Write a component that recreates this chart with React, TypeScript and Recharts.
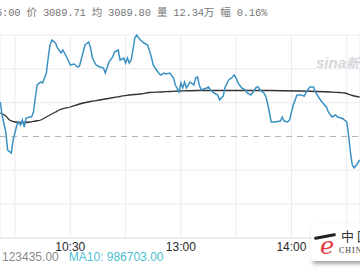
import { LineChart, Line, XAxis, YAxis, CartesianGrid, ReferenceLine } from "recharts";

// minutes counted from 9:30 (the lunch break is folded, 11:30 == 13:00 == 120)
const priceTimes = [
  22, 23, 25, 26, 28, 29, 31, 32, 33, 34, 35, 36, 38, 39, 40, 41, 42, 44, 45, 46,
  47, 48, 49, 50, 52, 53, 55, 56, 58, 60, 62, 64, 65, 67, 68, 70, 71, 72, 74, 76,
  78, 79, 81, 83, 84, 86, 87, 89, 90, 91, 92, 93, 94, 95, 96, 98, 100, 102, 104, 105,
  106, 108, 109, 111, 112, 114, 116, 117, 119, 120, 121, 122, 123, 125, 127, 128, 129, 130, 131, 134,
  135, 136, 138, 140, 141, 142, 143, 144, 146, 148, 149, 150, 151, 153, 155, 156, 158, 160, 161, 162,
  163, 165, 166, 167, 168, 169, 171, 174, 175, 176, 178, 179, 181, 183, 185, 187, 188, 190, 192, 193,
  195, 197, 199, 200, 202, 204, 205, 207, 208, 210, 211, 212, 213, 214, 216, 217,
];
const priceValues = [
  3088.23, 3086.93, 3085.23, 3083.43, 3083.13, 3084.43, 3085.93, 3086.23, 3085.93, 3086.43,
  3085.73, 3086.63, 3086.73, 3086.73, 3087.23, 3088.63, 3089.93, 3090.23, 3090.13, 3090.63,
  3091.13, 3092.63, 3093.93, 3094.43, 3094.13, 3093.63, 3093.13, 3093.43, 3092.73, 3091.93,
  3092.03, 3091.73, 3091.83, 3093.23, 3093.93, 3094.23, 3093.63, 3092.63, 3091.93, 3091.73,
  3091.63, 3091.13, 3092.23, 3092.73, 3093.23, 3093.43, 3092.43, 3092.63, 3092.13, 3092.63,
  3092.13, 3092.43, 3093.43, 3094.63, 3094.93, 3094.43, 3094.13, 3093.93, 3092.73, 3091.93,
  3091.63, 3091.13, 3090.93, 3091.13, 3091.03, 3091.13, 3090.63, 3089.93, 3089.23, 3090.13,
  3089.63, 3090.23, 3089.63, 3090.23, 3089.93, 3090.63, 3090.73, 3089.93, 3089.43, 3089.63,
  3089.73, 3089.43, 3089.13, 3088.93, 3088.43, 3088.63, 3088.83, 3089.73, 3090.43, 3090.73,
  3090.93, 3090.63, 3090.13, 3089.63, 3089.43, 3089.13, 3088.93, 3089.43, 3089.73, 3089.73,
  3089.43, 3089.13, 3088.83, 3088.13, 3087.23, 3086.23, 3086.23, 3086.33, 3086.73, 3086.33,
  3086.23, 3086.43, 3087.93, 3088.93, 3088.93, 3088.83, 3089.23, 3089.73, 3089.73, 3089.23,
  3088.63, 3088.13, 3087.73, 3087.23, 3086.73, 3086.93, 3086.73, 3086.63, 3086.53, 3086.23,
  3084.93, 3083.23, 3081.93, 3081.63, 3082.13, 3082.43,
];

const avgTimes = [
  22, 25, 27, 30, 33, 35, 38, 41, 44, 46, 49, 52, 54, 60, 65, 71, 76, 82, 87, 92,
  98, 103, 109, 114, 120, 130, 147, 168, 185, 201, 206, 209, 213, 217,
];
const avgValues = [
  3087.13, 3086.83, 3086.43, 3086.23, 3086.18, 3086.18, 3086.23, 3086.33, 3086.43, 3086.63,
  3086.93, 3087.23, 3087.43, 3087.73, 3088.03, 3088.28, 3088.43, 3088.63, 3088.78, 3088.93,
  3089.03, 3089.18, 3089.23, 3089.28, 3089.33, 3089.38, 3089.38, 3089.38, 3089.33, 3089.23,
  3089.18, 3089.13, 3088.88, 3088.73,
];

const PREV_CLOSE = 3084.78;
const gridPrices = [3074.63, 3078.01, 3081.4, 3088.16, 3091.55, 3094.93];
const timeTicks = [30, 60, 90, 120, 150, 180, 210];
const timeLabels: Record<number, string> = { 60: "10:30", 120: "13:00", 180: "14:00" };

const priceData = priceTimes.map((t, i) => ({ t, price: priceValues[i] }));
const avgData = avgTimes.map((t, i) => ({ t, avg: avgValues[i] }));

function TimeTick(props: any) {
  const { x, y, payload } = props;
  const label = timeLabels[payload.value];
  if (!label) return <g />;
  return (
    <text x={x} y={y + 5} textAnchor="middle" fontSize={12} fill="#2a2a2a" fontFamily="'Liberation Sans', Arial, sans-serif">
      {label}
    </text>
  );
}

export default function App() {
  return (
    <div
      style={{
        position: "absolute",
        left: 0,
        top: 0,
        width: 360,
        height: 270,
        overflow: "hidden",
        background: "#fff",
      }}
    >
      <div
        style={{
          position: "absolute",
          left: -4,
          top: 4,
          fontFamily: "'Liberation Mono', 'Noto Sans CJK SC', monospace",
          fontSize: 10.5,
          letterSpacing: -0.2,
          color: "#777",
          whiteSpace: "pre",
        }}
      >
        5:00 价 3089.71 均 3089.80 量 12.34万 幅 0.16%
      </div>

      <div style={{ position: "absolute", left: 0, top: 0 }}>
        <LineChart width={360} height={270} margin={{ top: 35, right: 0, bottom: 0, left: 0 }}>
          <CartesianGrid stroke="#ebebf0" />
          <XAxis
            dataKey="t"
            type="number"
            domain={[21.86, 217.2]}
            ticks={timeTicks}
            height={32}
            tickLine={false}
            axisLine={{ stroke: "#e6e6ec" }}
            tick={<TimeTick />}
            interval={0}
          />
          <YAxis
            hide
            type="number"
            domain={[3074.63, 3094.93]}
            ticks={gridPrices}
            width={0}
          />
          <ReferenceLine y={PREV_CLOSE} stroke="#b5b5b5" strokeDasharray="6 5" strokeWidth={1} />
          <Line
            data={avgData}
            dataKey="avg"
            type="monotone"
            stroke="#333"
            strokeWidth={1.3}
            dot={false}
            isAnimationActive={false}
          />
          <Line
            data={priceData}
            dataKey="price"
            type="linear"
            stroke="#3c91c3"
            strokeWidth={1.5}
            dot={false}
            isAnimationActive={false}
          />
        </LineChart>
      </div>

      <div
        style={{
          position: "absolute",
          left: 316,
          top: 53,
          fontFamily: "'Liberation Sans', Arial, sans-serif",
          fontSize: 15,
          fontWeight: 700,
          fontStyle: "italic",
          color: "#d6d6da",
          whiteSpace: "pre",
        }}
      >
        sina<span style={{ fontFamily: "'Noto Sans CJK SC'", fontSize: 13 }}>新浪</span>
      </div>

      <div
        style={{
          position: "absolute",
          left: 2,
          top: 250,
          fontFamily: "'Liberation Sans', Arial, sans-serif",
          fontSize: 12,
          color: "#8a8a8a",
          whiteSpace: "pre",
        }}
      >
        123435.00
        <span style={{ color: "#4cbfd0", marginLeft: 10 }}>MA10: 986703.00</span>
      </div>

      <div
        style={{
          position: "absolute",
          left: 311,
          top: 224,
          width: 70,
          height: 37,
          background: "#fff",
          boxShadow: "2px 3px 4px rgba(0,0,0,0.35)",
          whiteSpace: "nowrap",
        }}
      >
        <div
          style={{
            position: "absolute",
            left: 3,
            top: 11,
            width: 22,
            height: 3,
            background: "#222",
            transform: "rotate(-10deg)",
            borderRadius: 2,
          }}
        />
        <div
          style={{
            position: "absolute",
            left: 9,
            top: 8,
            fontFamily: "'DejaVu Serif', serif",
            fontStyle: "italic",
            fontSize: 24,
            color: "#e23a3f",
            lineHeight: "28px",
          }}
        >
          e
        </div>
        <div
          style={{
            position: "absolute",
            left: 30,
            top: 4,
            fontFamily: "'Noto Sans CJK SC', sans-serif",
            fontSize: 13,
            color: "#333",
            letterSpacing: 3,
            lineHeight: "16px",
            whiteSpace: "nowrap",
          }}
        >
          中国
        </div>
        <div
          style={{
            position: "absolute",
            left: 28,
            top: 22,
            fontFamily: "'Liberation Serif', serif",
            fontSize: 8,
            color: "#333",
            letterSpacing: 1,
            whiteSpace: "nowrap",
          }}
        >
          CHINA
        </div>
      </div>
    </div>
  );
}
